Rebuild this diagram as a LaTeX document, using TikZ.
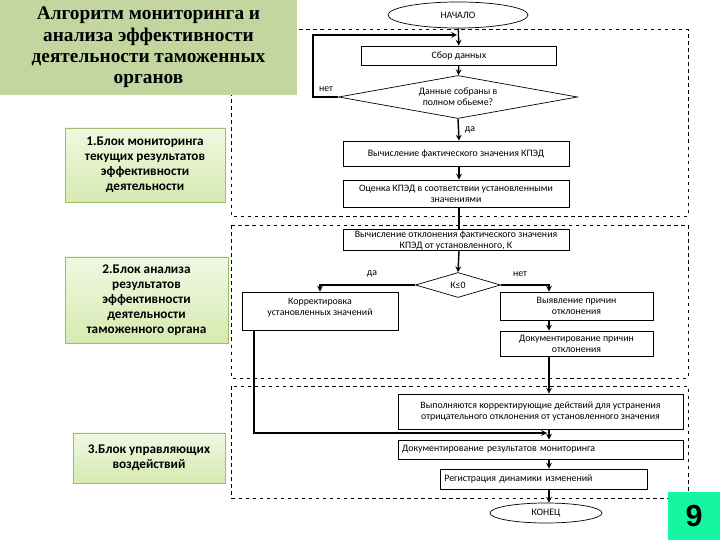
\documentclass[tikz,border=0pt]{standalone}
\usepackage{fontspec}
\setmainfont{Carlito}
\newfontfamily\titlefont{Liberation Serif}
\newfontfamily\numfont{Liberation Sans}
\usetikzlibrary{shapes.geometric}

\definecolor{titlegreen}{RGB}{196,214,160}
\definecolor{blocktop}{RGB}{240,248,226}
\definecolor{blockbottom}{RGB}{214,234,176}
\definecolor{blockedge}{RGB}{160,186,110}
\definecolor{pagegreen}{RGB}{22,245,160}

\begin{document}
\begin{tikzpicture}[x=0.03cm, y=-0.03cm]

\tikzset{stepbox/.style={shape=rectangle, draw=black, line width=0.6, inner sep=1, font=\fontsize{8.4}{9.4}\selectfont, align=center}}
\tikzset{terminal/.style={shape=ellipse, draw=black, line width=0.6, inner sep=0, font=\fontsize{8.4}{9.4}\selectfont}}
\tikzset{decision/.style={shape=diamond, draw=black, line width=0.6, inner sep=0, font=\fontsize{8.4}{9.4}\selectfont, align=center}}
\tikzset{block/.style={shape=rectangle, draw=blockedge, line width=0.6, top color=blocktop, bottom color=blockbottom, font=\fontsize{11.3}{12.7}\selectfont\bfseries, align=center}}
\tikzset{stage/.style={dashed, line width=0.5}}
\tikzset{flow/.style={->, >=stealth, line width=1.2}}
\tikzset{plain/.style={line width=1.2}}
\tikzset{answer/.style={font=\fontsize{8.4}{9.4}\selectfont}}

\useasboundingbox (0,0) rectangle (720,540);

% stages
\draw[stage] (231,29) rectangle (688,216);
\draw[stage] (231,225) rectangle (688,378);
\draw[stage] (231,386) rectangle (688,498);

% title and blocks
\node[fill=titlegreen, minimum width=8.91cm, minimum height=2.85cm, inner sep=0, font=\titlefont\fontsize{16.5}{18.3}\selectfont\bfseries, align=center] (title) at (148.5,47.5) {Алгоритм мониторинга и\\анализа эффективности\\деятельности таможенных\\органов};
\node[block, minimum width=4.8cm, minimum height=2.22cm] (block1) at (145,165) {1.Блок мониторинга\\текущих результатов\\эффективности\\деятельности};
\node[block, minimum width=4.89cm, minimum height=2.58cm] (block2) at (146.5,300) {2.Блок анализа\\результатов\\эффективности\\деятельности\\таможенного органа};
\node[block, minimum width=4.56cm, minimum height=1.5cm] (block3) at (149,458) {3.Блок управляющих\\воздействий};

% flowchart
\node[terminal, minimum width=4.2cm, minimum height=0.78cm] (start) at (458,15) {НАЧАЛО};
\node[stepbox, minimum width=5.85cm, minimum height=0.57cm] (collect) at (459,55.5) {Сбор данных};
\node[decision, shape aspect=5.5, minimum width=7.17cm, minimum height=1.29cm] (check) at (458,97) {Данные собраны в\\полном обьеме?};
\node[stepbox, minimum width=6.78cm, minimum height=0.75cm] (actual) at (456,153.5) {Вычисление фактического значения КПЭД};
\node[stepbox, minimum width=6.78cm, minimum height=0.81cm] (assess) at (456,193.5) {Оценка КПЭД в соответствии установленными\\значениями};
\node[stepbox, minimum width=6.78cm, minimum height=0.6cm] (deviation) at (456,240) {Вычисление отклонения фактического значения\\КПЭД от установленного, К};
\node[decision, shape aspect=3.4, minimum width=2.55cm, minimum height=0.75cm] (sign) at (458,285) {К≤0};
\node[stepbox, minimum width=4.68cm, minimum height=1.14cm, text depth=7pt] (correct) at (320,311) {Корректировка\\установленных значений};
\node[stepbox, minimum width=4.59cm, minimum height=0.84cm] (reveal) at (576.5,306) {Выявление причин\\отклонения};
\node[stepbox, minimum width=4.59cm, minimum height=0.75cm] (docreason) at (576.5,343.5) {Документирование причин\\отклонения};
\node[stepbox, minimum width=8.55cm, minimum height=1.05cm] (actions) at (540.5,411.5) {Выполняются корректирующие действий для устранения\\отрицательного отклонения от установленного значения};
\node[stepbox, minimum width=8.55cm, minimum height=0.57cm, text width=8.3cm, align=left] (report) at (540.5,449.5) {Документирование результатов мониторинга};
\node[stepbox, minimum width=6.21cm, minimum height=0.6cm, text width=5.95cm, align=left] (register) at (543.5,479) {Регистрация динамики изменений};
\node[terminal, minimum width=3.36cm, minimum height=0.6cm] (finish) at (546,513) {КОНЕЦ};

\coordinate (main) at (459,0);
\coordinate (rcol) at (549,0);
\coordinate (lcol) at (254,0);
\coordinate (loop) at (313,35);
\coordinate (loopin) at (457,35);
\coordinate (join) at (547,433);

\draw[flow] (start) edge (collect);
\draw[flow] (check.west) -| (loop) -- (loopin);
\draw[flow] (collect) -- (check);
\draw[flow] (check.south) -- (actual.north -| main);
\draw[flow] (actual.south -| main) -- (assess.north -| main);
\draw[plain] (assess.south -| main) -- (deviation.north -| main);
\draw[flow] (deviation.south -| main) -- (sign.north);
\draw[flow] (sign.west) -| (correct.north);
\draw[flow] (sign.east) -| (reveal.north -| rcol);
\draw[flow] (reveal.south -| rcol) -- (docreason.north -| rcol);
\draw[flow] (docreason.south -| rcol) -- (actions.north -| rcol);
\draw[flow] (correct.south -| lcol) |- (join);
\draw[flow] (actions.south -| rcol) -- (report.north -| rcol);
\draw[flow] (report.south -| rcol) -- (register.north -| rcol);
\draw[flow] (register.south -| rcol) -- (finish.north -| rcol);

\node[answer] (no1) at (326,89) {нет};
\node[answer] (yes1) at (470,130) {да};
\node[answer] (yes2) at (372,274) {да};
\node[answer] (no2) at (520,274) {нет};

% page number
\node[fill=pagegreen, minimum width=1.56cm, minimum height=1.44cm, inner sep=0, font=\numfont\fontsize{26}{30}\selectfont\bfseries] (page) at (694,516) {9};

\end{tikzpicture}
\end{document}
